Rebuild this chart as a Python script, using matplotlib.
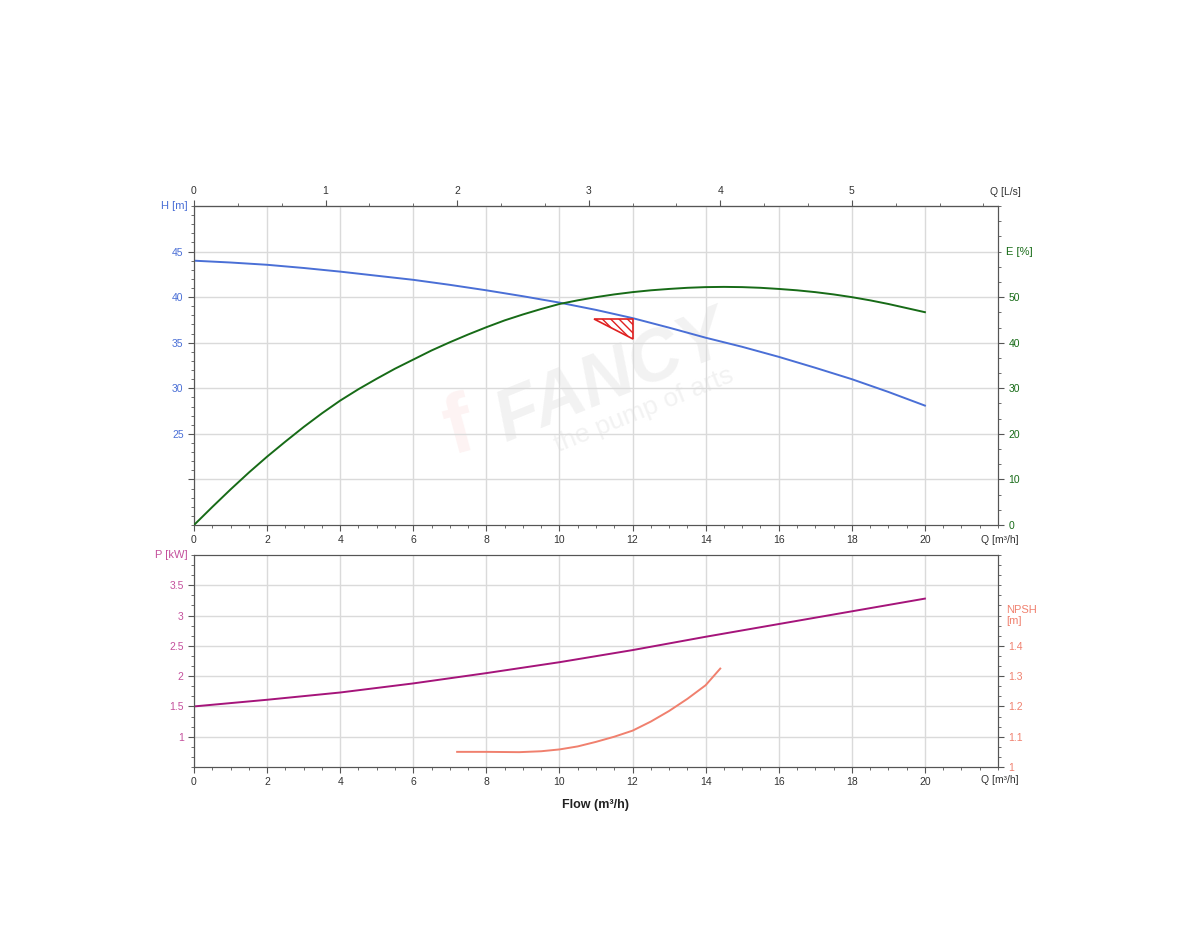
import matplotlib.pyplot as plt
from matplotlib.ticker import MultipleLocator, AutoMinorLocator, FuncFormatter
from matplotlib.patches import Polygon

plt.rcParams['font.family'] = ['Liberation Sans', 'DejaVu Sans']
plt.rcParams['hatch.color'] = '#e02020'
plt.rcParams['hatch.linewidth'] = 1.0

# curve data (Q in m3/h)
q_h = [0, 1, 2, 3, 4, 5, 6, 7, 8, 9, 10, 11, 12, 13, 14, 15, 16, 17, 18, 19, 20]
head = [44.0, 43.8, 43.55, 43.2, 42.8, 42.35, 41.9, 41.35, 40.75, 40.1, 39.4, 38.6, 37.7, 36.65, 35.55, 34.55, 33.45, 32.25, 31.0, 29.6, 28.1]
q_e = [0, 0.5, 1, 1.5, 2, 2.5, 3, 3.5, 4, 4.5, 5, 5.5, 6, 6.5, 7, 7.5, 8, 8.5, 9, 9.5, 10,
       10.5, 11, 11.5, 12, 12.5, 13, 13.5, 14, 14.5, 15, 15.5, 16, 16.5, 17, 17.5, 18, 18.5, 19, 19.5, 20]
eff = [0, 3.95, 7.8, 11.5, 15.0, 18.3, 21.5, 24.5, 27.3, 29.8, 32.1, 34.3, 36.3, 38.3, 40.1, 41.8, 43.4, 44.9, 46.2, 47.4, 48.5,
       49.3, 50.0, 50.6, 51.1, 51.5, 51.8, 52.05, 52.2, 52.25, 52.2, 52.05, 51.8, 51.5, 51.1, 50.6, 50.0, 49.3, 48.5, 47.6, 46.7]
q_p = [0, 2, 4, 6, 8, 10, 12, 14, 16, 18, 20]
power = [1.5, 1.61, 1.73, 1.88, 2.05, 2.23, 2.43, 2.65, 2.86, 3.07, 3.28]
q_npsh = [7.2, 8.0, 8.9, 9.5, 10.0, 10.5, 11.0, 11.5, 12.0, 12.5, 13.0, 13.5, 14.0, 14.4]
npsh = [1.05, 1.05, 1.049, 1.052, 1.058, 1.068, 1.083, 1.1, 1.12, 1.15, 1.185, 1.225, 1.27, 1.325]

# duty point triangle (Q, H)
duty_q = [10.95, 12.0, 12.0]
duty_h = [37.6, 37.6, 35.4]

BLUE = '#4a6fd6'
GREEN = '#176b17'
MAGENTA = '#a5147a'
SALMON = '#f0806e'
GRID = '#dadada'
SPINE = '#555555'
FS = 7.5

fig = plt.figure(figsize=(12, 9.5), dpi=100)
ax1 = fig.add_axes([194/1200, 1-525/950, 804/1200, 319/950])
ax3 = fig.add_axes([194/1200, 1-767/950, 804/1200, 212/950])


def style(ax):
    for s in ax.spines.values():
        s.set_color(SPINE)
    ax.tick_params(axis='both', which='both', direction='out', color=SPINE, labelsize=FS)
    ax.tick_params(which='major', length=4)
    ax.tick_params(which='minor', length=2.5)


# ---------- top chart: H and E ----------
ax1.plot(q_h, head, color=BLUE, lw=1.4, zorder=3)
ax1.set_xlim(0, 22)
ax1.set_ylim(15, 50)
ax1.set_xticks([0, 2, 4, 6, 8, 10, 12, 14, 16, 18, 20])
ax1.xaxis.set_minor_locator(MultipleLocator(0.5))
ax1.set_yticks([20, 25, 30, 35, 40, 45])
ax1.yaxis.set_major_formatter(FuncFormatter(lambda v, p: '' if v < 25 else f'{v:g}'))
ax1.yaxis.set_minor_locator(MultipleLocator(1))
ax1.grid(True, color=GRID, lw=1)
style(ax1)
ax1.tick_params(axis='y', labelcolor=BLUE)
ax1.tick_params(axis='x', labelcolor='#333333')
ax1.text(-0.008, 1.0, 'H [m]', transform=ax1.transAxes, ha='right', va='center', color=BLUE, fontsize=FS + 0.5)
ax1.text(1.002, -0.047, 'Q [m³/h]', transform=ax1.transAxes, ha='center', va='center', color='#333333', fontsize=FS)

tri = Polygon(list(zip(duty_q, duty_h)), closed=True, fill=False, edgecolor='#e02020', hatch='\\\\\\\\', lw=1.2, zorder=4)
ax1.add_patch(tri)

ax2 = ax1.twinx()
ax2.plot(q_e, eff, color=GREEN, lw=1.4, zorder=3)
ax2.set_ylim(0, 70)
ax2.set_yticks([0, 10, 20, 30, 40, 50])
ax2.yaxis.set_minor_locator(AutoMinorLocator(3))
style(ax2)
ax2.tick_params(axis='y', labelcolor=GREEN)
ax2.text(1.01, 60, 'E [%]', transform=ax2.get_yaxis_transform(), ha='left', va='center', color=GREEN, fontsize=FS + 0.5)

sec = ax1.secondary_xaxis('top', functions=(lambda q: q / 3.6, lambda l: l * 3.6))
sec.set_xticks([0, 1, 2, 3, 4, 5])
sec.xaxis.set_minor_locator(MultipleLocator(1/3))
sec.tick_params(which='both', direction='out', color=SPINE, labelsize=FS, labelcolor='#333333')
sec.tick_params(which='major', length=4)
sec.tick_params(which='minor', length=2.5)
sec.spines['top'].set_color(SPINE)
ax1.text(1.009, 1.045, 'Q [L/s]', transform=ax1.transAxes, ha='center', va='center', color='#333333', fontsize=FS)

# watermark
ax1.text(0.52, 0.46, 'FANCY', transform=ax1.transAxes, fontsize=52, fontweight='bold', style='italic',
         color='#d8d8d8', alpha=0.32, rotation=22, ha='center', va='center', zorder=0)
ax1.text(0.56, 0.36, 'the pump of arts', transform=ax1.transAxes, fontsize=19,
         color='#d8d8d8', alpha=0.32, rotation=22, ha='center', va='center', zorder=0)
ax1.text(0.33, 0.30, 'f', transform=ax1.transAxes, fontsize=60, fontweight='bold',
         color='#f4a0a0', alpha=0.13, rotation=15, ha='center', va='center', zorder=0)

# ---------- bottom chart: P and NPSH ----------
ax3.plot(q_p, power, color=MAGENTA, lw=1.4, zorder=3)
ax3.set_xlim(0, 22)
ax3.set_ylim(0.5, 4.0)
ax3.set_xticks([0, 2, 4, 6, 8, 10, 12, 14, 16, 18, 20])
ax3.xaxis.set_minor_locator(MultipleLocator(0.5))
ax3.set_yticks([1, 1.5, 2, 2.5, 3, 3.5])
ax3.yaxis.set_major_formatter(FuncFormatter(lambda v, p: f'{v:g}'))
ax3.yaxis.set_minor_locator(AutoMinorLocator(3))
ax3.grid(True, color=GRID, lw=1)
style(ax3)
ax3.tick_params(axis='y', labelcolor='#c4509c')
ax3.tick_params(axis='x', labelcolor='#333333')
ax3.text(-0.008, 1.0, 'P [kW]', transform=ax3.transAxes, ha='right', va='center', color='#c4509c', fontsize=FS + 0.5)
ax3.text(1.002, -0.06, 'Q [m³/h]', transform=ax3.transAxes, ha='center', va='center', color='#333333', fontsize=FS)
ax3.set_xlabel('Flow (m³/h)', fontsize=9, fontweight='bold', labelpad=8, color='#222222')

ax4 = ax3.twinx()
ax4.plot(q_npsh, npsh, color=SALMON, lw=1.4, zorder=3)
ax4.set_ylim(1.0, 1.7)
ax4.set_yticks([1, 1.1, 1.2, 1.3, 1.4])
ax4.yaxis.set_major_formatter(FuncFormatter(lambda v, p: f'{v:g}'))
ax4.yaxis.set_minor_locator(AutoMinorLocator(3))
style(ax4)
ax4.tick_params(axis='y', labelcolor=SALMON)
ax4.text(1.01, 1.5, 'NPSH\n[m]', transform=ax4.get_yaxis_transform(), ha='left', va='center',
         color=SALMON, fontsize=FS + 0.5, linespacing=1.1)

fig.savefig('out.png', dpi=100, facecolor='white')
